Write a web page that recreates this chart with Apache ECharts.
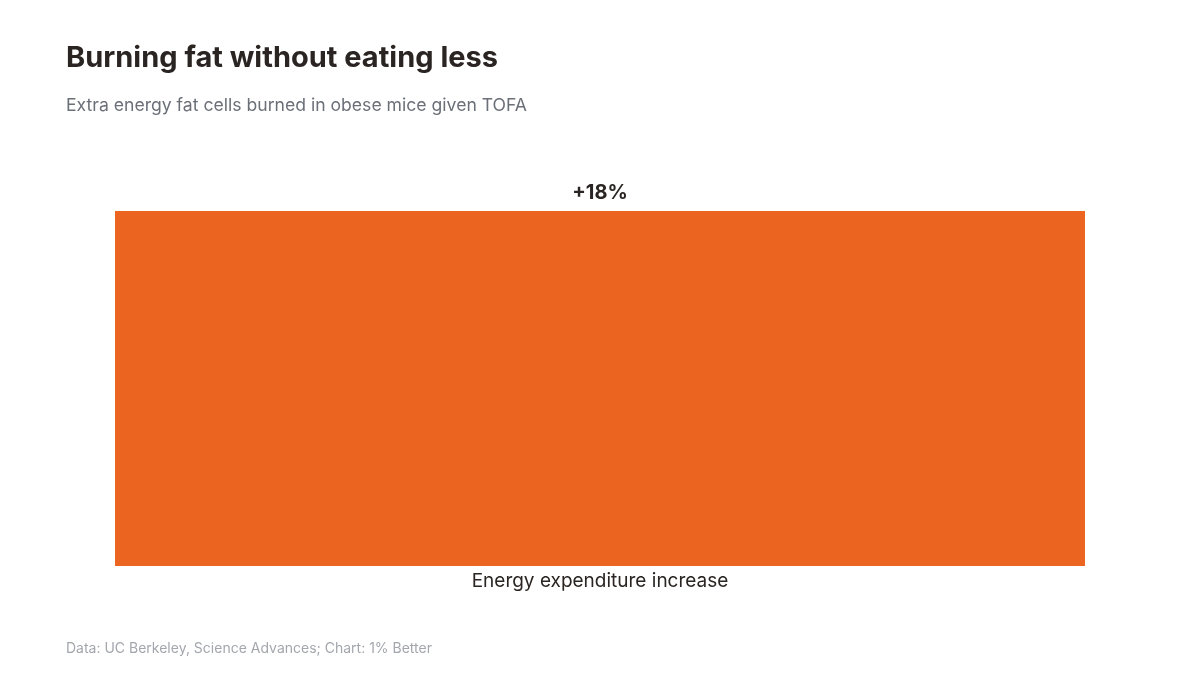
<!DOCTYPE html>
<html>
<head>
<meta charset="utf-8">
<script src="https://cdn.jsdelivr.net/npm/echarts@6/dist/echarts.min.js"></script>
<style>
  html, body { margin: 0; padding: 0; background: #fff; }
  #main { width: 1200px; height: 675px; }
</style>
</head>
<body>
<div id="main"></div>
<script>
const categories = ["Energy expenditure increase"];
const values = [18];

var mychart = echarts.init(document.getElementById("main"));

const option = {
	backgroundColor: "#ffffff",
	textStyle: {fontFamily: "Inter, 'Noto Sans', sans-serif"},
	title: [
		{text: "Burning fat without eating less", left: 61, top: 39,
			textStyle: {fontSize: 29, fontWeight: "bold", color: "#2a2522", fontFamily: "Inter, sans-serif"}},
		{text: "Extra energy fat cells burned in obese mice given TOFA", left: 61, top: 92,
			textStyle: {fontSize: 17.6, fontWeight: "normal", color: "#6b7078", fontFamily: "Inter, sans-serif"}},
		{text: "Data: UC Berkeley, Science Advances; Chart: 1% Better", left: 61, top: 637,
			textStyle: {fontSize: 14, fontWeight: "normal", color: "#a3a7ad", fontFamily: "Inter, sans-serif"}}
	],
	grid: {left: 115, right: 115, top: 211, bottom: 109, containLabel: false},
	xAxis: {
		type: "category",
		data: categories,
		axisLine: {show: false},
		axisTick: {show: false},
		axisLabel: {fontSize: 19, color: "#2a2522", margin: 6}
	},
	yAxis: {
		type: "value",
		min: 0,
		max: 18,
		show: false
	},
	series: [{
		type: "bar",
		data: values,
		barCategoryGap: "0%",
		barWidth: "100%",
		itemStyle: {color: "#ec6520"},
		label: {show: true, position: "top", distance: 8,
			formatter: function(p){return "+" + p.value + "%";},
			fontSize: 20, fontWeight: "bold", color: "#2a2522"},
		silent: true
	}],
	animation: false
};
mychart.setOption(option);
</script>
</body>
</html>
